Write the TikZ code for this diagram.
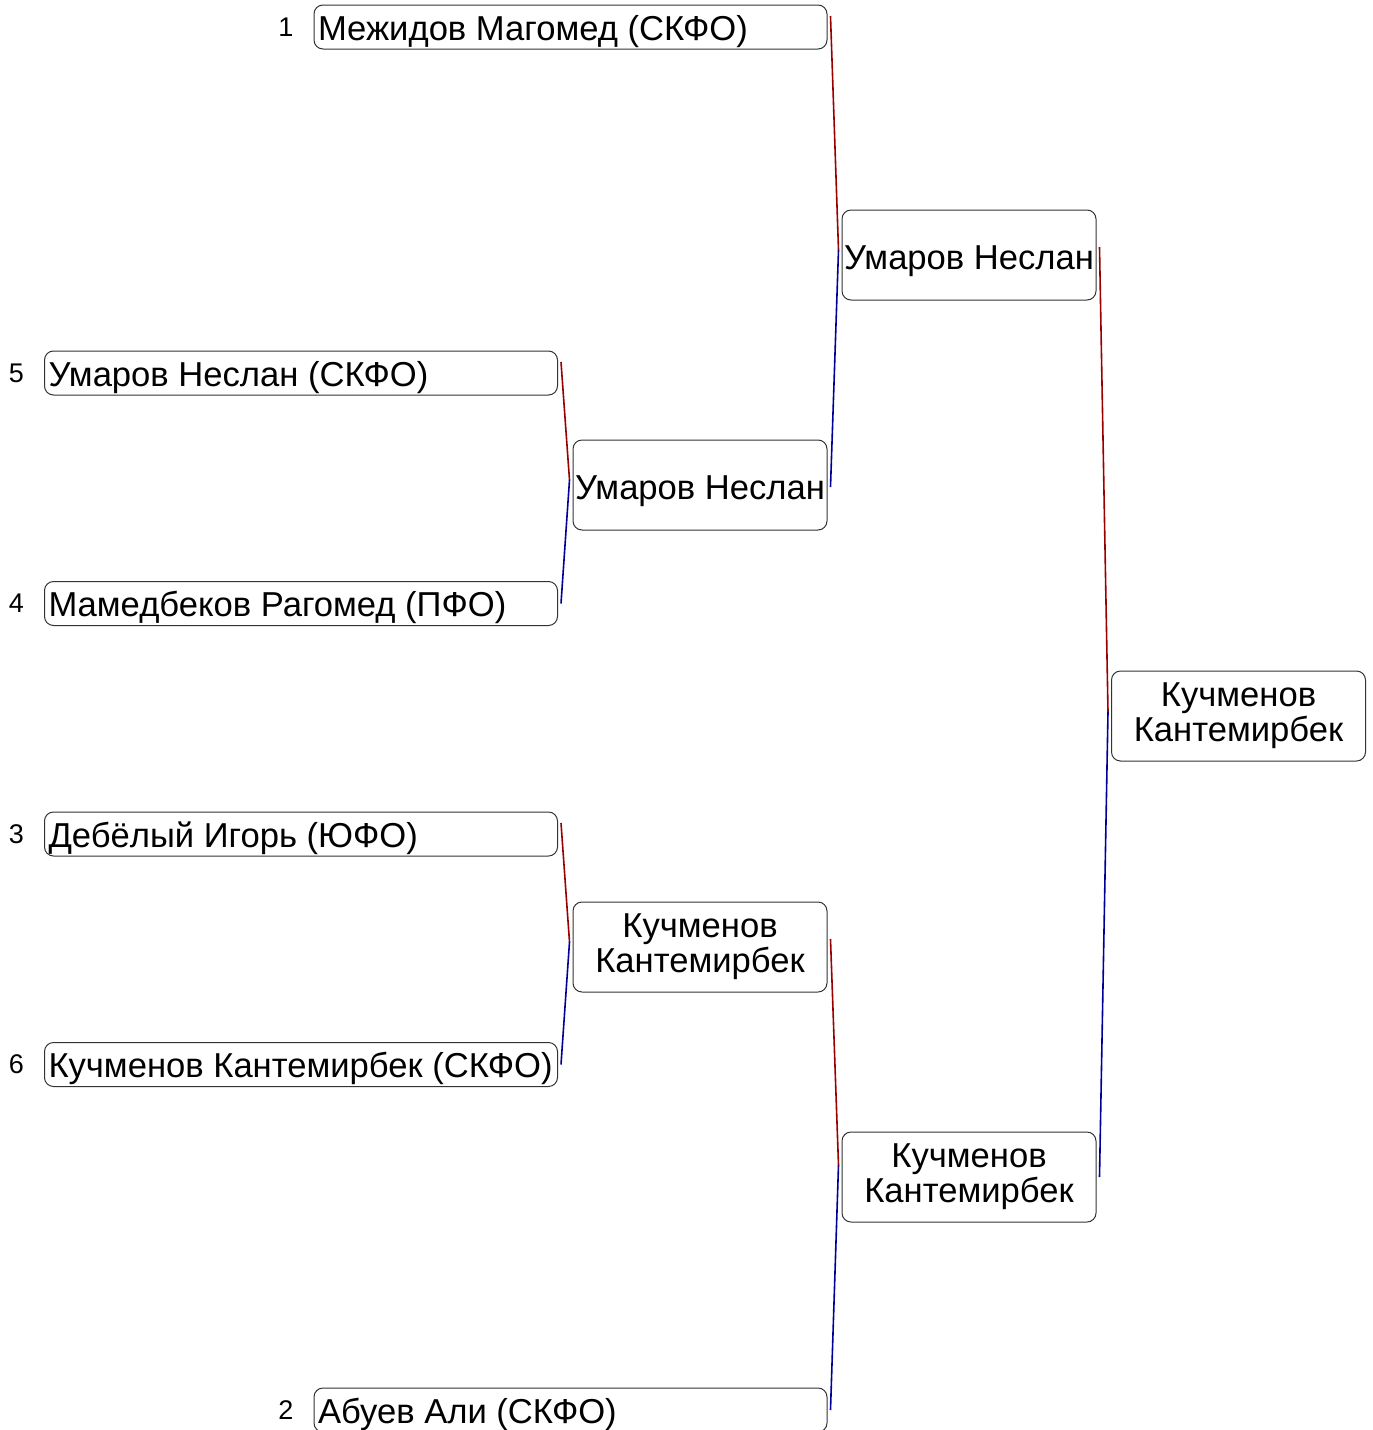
\documentclass[tikz,border=0pt]{standalone}
\usepackage{fontspec}
\setmainfont{Liberation Sans}
\usepackage{tikz}
\definecolor{topred}{HTML}{990000}
\definecolor{botblue}{HTML}{000099}
\newcommand\seedname[1]{\makebox[505pt][l]{#1}}
\tikzset{
  seed/.style={draw=black!80, rounded corners=9pt, line width=1pt, inner xsep=4pt, inner ysep=0pt,
    text height=29pt, text depth=3pt, minimum height=44pt},
  seedno/.style={inner sep=0pt, label distance=20pt, font=\fontsize{27}{30}\selectfont},
  winner/.style={draw=black!80, rounded corners=9pt, line width=1pt, inner sep=0pt,
    align=center, minimum width=254pt, minimum height=90pt},
  oneline/.style={text height=30pt, text depth=2pt},
  redline/.style={topred, line width=1.6pt},
  blueline/.style={botblue, line width=1.6pt}
}
\begin{document}
\begin{tikzpicture}[x=1pt, y=-1pt, font=\fontsize{34.6}{35}\selectfont]
                \useasboundingbox (0,0) rectangle (1373,1430);
                % first round
                \node[seed, label={[seedno]left:1}] (p1) at (570.5,27) {\seedname{Межидов Магомед (СКФО)}};
                \node[seed, label={[seedno]left:5}] (p5) at (301,373) {\seedname{Умаров Неслан (СКФО)}};
                \node[seed, label={[seedno]left:4}] (p4) at (301,603.5) {\seedname{Мамедбеков Рагомед (ПФО)}};
                \node[seed, label={[seedno]left:3}] (p3) at (301,834) {\seedname{Дебёлый Игорь (ЮФО)}};
                \node[seed, label={[seedno]left:6}] (p6) at (301,1064.5) {\seedname{Кучменов Кантемирбек (СКФО)}};
                \node[seed, label={[seedno]left:2}] (p2) at (570.5,1410) {\seedname{Абуев Али (СКФО)}};
                % later rounds
                \node[winner, oneline] (q1) at (700,485) {Умаров Неслан};
                \node[winner] (q2) at (700,947) {Кучменов\\Кантемирбек};
                \node[winner, oneline] (s1) at (969,255) {Умаров Неслан};
                \node[winner] (s2) at (969,1177) {Кучменов\\Кантемирбек};
                \node[winner] (f) at (1238.5,716) {Кучменов\\Кантемирбек};
                % connectors
                \draw[redline] ([xshift=3pt,yshift=11pt]p5.east) -- ([xshift=-3pt,yshift=5pt]q1.west);
                \draw[blueline] ([xshift=-3pt,yshift=5pt]q1.west) -- ([xshift=3pt]p4.east);
                \draw[redline] ([xshift=3pt,yshift=11pt]p3.east) -- ([xshift=-3pt,yshift=5pt]q2.west);
                \draw[blueline] ([xshift=-3pt,yshift=5pt]q2.west) -- ([xshift=3pt]p6.east);
                \draw[redline] ([xshift=3pt,yshift=11pt]p1.east) -- ([xshift=-3pt,yshift=5pt]s1.west);
                \draw[blueline] ([xshift=-3pt,yshift=5pt]s1.west) -- ([xshift=3pt,yshift=-2pt]q1.east);
                \draw[redline] ([xshift=3pt,yshift=8pt]q2.east) -- ([xshift=-3pt,yshift=12pt]s2.west);
                \draw[blueline] ([xshift=-3pt,yshift=12pt]s2.west) -- ([xshift=3pt]p2.east);
                \draw[redline] ([xshift=3pt,yshift=8pt]s1.east) -- ([xshift=-3pt,yshift=4pt]f.west);
                \draw[blueline] ([xshift=-3pt,yshift=4pt]f.west) -- ([xshift=3pt]s2.east);
            \end{tikzpicture}
\end{document}
